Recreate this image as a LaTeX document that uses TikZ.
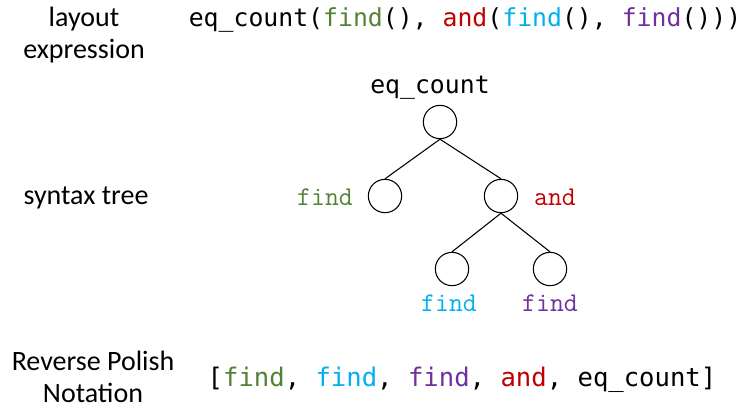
\documentclass[tikz,border=0pt]{standalone}
\usepackage{fontspec}
\setmainfont{Carlito}
\newfontfamily\codefont{DejaVu Sans Mono}
\newfontfamily\treefont{Latin Modern Mono}
\definecolor{findgreen}{HTML}{548235}
\definecolor{andred}{HTML}{C00000}
\definecolor{findcyan}{HTML}{00B0F0}
\definecolor{findpurple}{HTML}{7030A0}

\begin{document}
\begin{tikzpicture}[x=0.75pt,y=-0.75pt,
    caption/.style={align=center,font=\fontsize{21}{23.5}\selectfont},
    code/.style={font=\codefont\fontsize{18.6}{22}\selectfont},
    leaf/.style={font=\treefont\fontsize{20.3}{22}\selectfont},
    vertex/.style={circle,draw,thick,minimum size=25pt,inner sep=0pt}]
  \useasboundingbox (0,0) rectangle (742,412);
  \node[caption] (layoutcap) at (84,35) {layout\\expression};
  \node[code] (expr) at (465,20) {eq\_count(\textcolor{findgreen}{find}(), \textcolor{andred}{and}(\textcolor{findcyan}{find}(), \textcolor{findpurple}{find}()))};
  \node[caption] (treecap) at (86,198) {syntax tree};
  \node[caption] (rpncap) at (93,377) {Reverse Polish\\Notation};
  \node[code,font=\codefont\fontsize{19.2}{22}\selectfont] (rpn) at (462,380) {[\textcolor{findgreen}{find}, \textcolor{findcyan}{find}, \textcolor{findpurple}{find}, \textcolor{andred}{and}, eq\_count]};
  \node[vertex] (root) at (440,122) {};
  \node[vertex] (left) at (385,196) {};
  \node[vertex] (right) at (501,196) {};
  \node[vertex] (botleft) at (452,269) {};
  \node[vertex] (botright) at (550,269) {};
  \draw[thick] (root.south) -- (left.north);
  \draw[thick] (root.south) -- (right.north);
  \draw[thick] (right.south) -- (botleft.north);
  \draw[thick] (right.south) -- (botright.north);
  \node[code] (rootlbl) at (430,88) {eq\_count};
  \node[leaf,findgreen] (leftlbl) at (325,197) {find};
  \node[leaf,andred] (rightlbl) at (555,197) {and};
  \node[leaf,findcyan] (botleftlbl) at (449,303) {find};
  \node[leaf,findpurple] (botrightlbl) at (550,303) {find};
\end{tikzpicture}
\end{document}
